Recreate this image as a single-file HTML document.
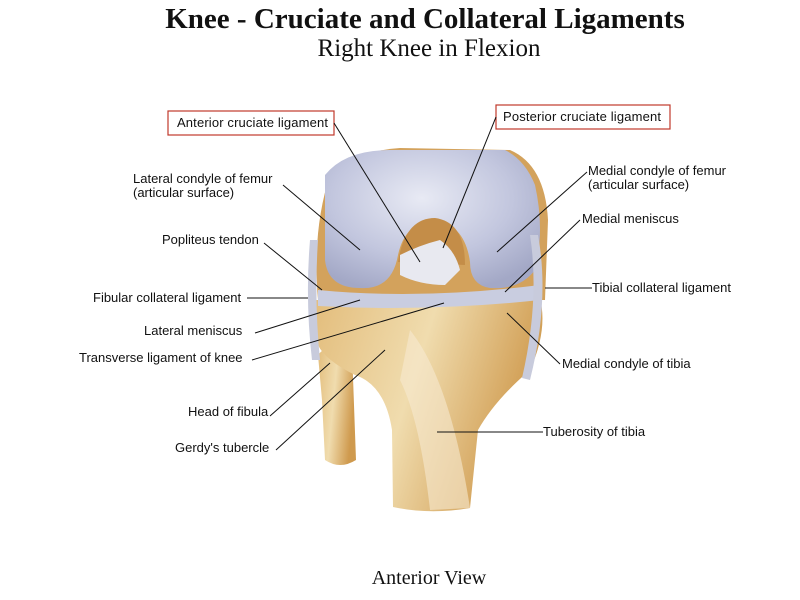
<!DOCTYPE html>
<html><head><meta charset="utf-8"><style>
body{margin:0;background:#fff;}
svg{display:block;}
.l{font-family:"Liberation Sans",sans-serif;font-size:13px;fill:#111;}
.t{font-family:"Liberation Serif",serif;fill:#111;}
</style></head><body>
<svg width="800" height="600" viewBox="0 0 800 600" xmlns="http://www.w3.org/2000/svg">
<defs>
<radialGradient id="cart" cx="0.45" cy="0.35" r="0.7"><stop offset="0" stop-color="#e8eaf4"/><stop offset="0.6" stop-color="#c2c6de"/><stop offset="1" stop-color="#a3a8c6"/></radialGradient>
<linearGradient id="bone" x1="0" y1="0" x2="1" y2="0.3"><stop offset="0" stop-color="#e3bd7c"/><stop offset="0.5" stop-color="#f0dcae"/><stop offset="1" stop-color="#cf9a4e"/></linearGradient>
</defs>
<text class="t" x="425" y="28" text-anchor="middle" font-size="29" font-weight="bold">Knee - Cruciate and Collateral Ligaments</text>
<text class="t" x="429" y="56" text-anchor="middle" font-size="25">Right Knee in Flexion</text>
<text class="t" x="429" y="584" text-anchor="middle" font-size="20">Anterior View</text>

<path d="M330 175 Q360 150 400 148 L510 150 Q545 165 548 220 L545 300 L318 300 Q312 230 330 175Z" fill="#d3a25c"/>
<path d="M318 355 Q330 340 352 350 L356 460 Q340 470 325 460 L322 400Z" fill="url(#bone)"/>
<path d="M315 300 L540 298 Q548 330 530 370 Q495 400 478 430 L470 508 Q430 515 393 507 L392 430 Q385 385 355 375 Q325 360 318 345Z" fill="url(#bone)"/>
<path d="M410 330 Q450 380 470 508 L430 510 Q420 420 400 380Z" fill="#f6ead0" opacity="0.6"/>
<path d="M325 175 Q345 150 390 150 L505 150 Q525 160 535 185 Q545 230 535 270 Q520 290 490 288 Q470 285 470 262 Q465 225 435 220 Q405 222 398 255 Q392 290 360 288 Q328 288 325 260 Z" fill="url(#cart)"/>
<path d="M398 262 Q405 218 435 218 Q465 222 465 265 Z" fill="#c48d48"/>
<path d="M400 255 Q420 245 440 240 Q455 250 460 270 L445 285 Q420 285 400 275Z" fill="#e8e9f0"/>
<path d="M318 290 Q420 300 540 285 L540 300 Q430 312 318 306Z" fill="#c9cde0"/>
<path d="M310 240 Q305 300 312 360 L320 360 Q314 300 318 240Z" fill="#c8cbdc"/>
<path d="M538 235 Q550 300 530 380 L522 378 Q540 300 530 235Z" fill="#c8cbdc"/>

<rect x="168" y="111" width="166" height="24" fill="none" stroke="#c0392b" stroke-width="1.2"/>
<rect x="496" y="105" width="174" height="24" fill="none" stroke="#c0392b" stroke-width="1.2"/>
<g class="l">
<text x="177" y="127" textLength="151">Anterior cruciate ligament</text>
<text x="503" y="121" textLength="158">Posterior cruciate ligament</text>
<text x="133" y="183">Lateral condyle of femur</text>
<text x="133" y="197">(articular surface)</text>
<text x="162" y="244">Popliteus tendon</text>
<text x="93" y="302">Fibular collateral ligament</text>
<text x="144" y="335">Lateral meniscus</text>
<text x="79" y="362">Transverse ligament of knee</text>
<text x="188" y="416">Head of fibula</text>
<text x="175" y="452">Gerdy's tubercle</text>
<text x="588" y="175">Medial condyle of femur</text>
<text x="588" y="189">(articular surface)</text>
<text x="582" y="223">Medial meniscus</text>
<text x="592" y="292">Tibial collateral ligament</text>
<text x="562" y="368">Medial condyle of tibia</text>
<text x="543" y="436">Tuberosity of tibia</text>
</g>
<g stroke="#111" stroke-width="1" fill="none">
<path d="M334 123 L420 262"/>
<path d="M496 117 L443 248"/>
<path d="M283 185 L360 250"/>
<path d="M264 243 L322 290"/>
<path d="M247 298 L308 298"/>
<path d="M255 333 L360 300"/>
<path d="M252 360 L444 303"/>
<path d="M270 416 L330 363"/>
<path d="M276 450 L385 350"/>
<path d="M587 172 L497 252"/>
<path d="M580 220 L505 292"/>
<path d="M545 288 L592 288"/>
<path d="M507 313 L560 364"/>
<path d="M437 432 L543 432"/>
</g>
</svg>
</body></html>
